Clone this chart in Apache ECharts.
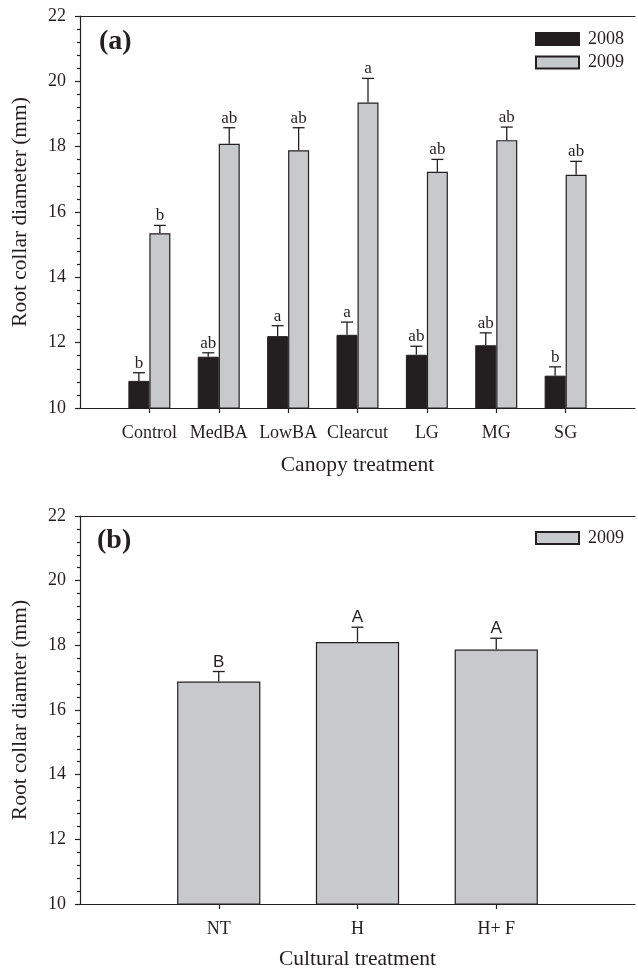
<!DOCTYPE html>
<html>
<head>
<meta charset="utf-8">
<style>
  html, body { margin: 0; padding: 0; background: #fff; }
  #chart { width: 638px; height: 971px; }
</style>
<script src="https://cdn.jsdelivr.net/npm/echarts@6/dist/echarts.min.js"></script>
</head>
<body>
<div id="chart"></div>
<script>
// Panel (a): root collar diameter by canopy treatment, 2008 vs 2009
const canopyCategories = ['Control', 'MedBA', 'LowBA', 'Clearcut', 'LG', 'MG', 'SG'];
const mean2008 = [10.83, 11.57, 12.20, 12.24, 11.63, 11.92, 10.99];
const se2008   = [0.25, 0.12, 0.32, 0.39, 0.26, 0.38, 0.27];
const letters2008 = ['b', 'ab', 'a', 'a', 'ab', 'ab', 'b'];
const mean2009 = [15.35, 18.09, 17.89, 19.35, 17.23, 18.20, 17.14];
const se2009   = [0.24, 0.49, 0.69, 0.74, 0.38, 0.40, 0.41];
const letters2009 = ['b', 'ab', 'ab', 'a', 'ab', 'ab', 'ab'];

// Panel (b): root collar diameter by cultural treatment, 2009
const culturalCategories = ['NT', 'H', 'H+ F'];
const meanCultural = [16.88, 18.10, 17.87];
const seCultural   = [0.31, 0.46, 0.35];
const lettersCultural = ['B', 'A', 'A'];

const yTicks = { min: 10, max: 22, interval: 2 };

const INK = '#231f20';
const GREY = '#c8c9cb';
const SERIF = '"Liberation Serif", "Times New Roman", serif';
const SANS = '"Liberation Sans", Arial, sans-serif';
const BAR_A = 21;   // px width of each bar in panel (a)

// empty slots at both ends leave a full step between the axis and the first/last group
const padCats = cats => [''].concat(cats, ['']);
const axisCatsA = padCats(canopyCategories);
const axisCatsB = padCats(culturalCategories);

function errorData(means, ses) {
  return means.map((m, i) => [i + 1, m, m + ses[i]]);
}

// upward error bar with a cap and a significance letter on top
function errorRenderer(offset, letters, font) {
  return function (params, api) {
    const idx = api.value(0);
    const base = api.coord([idx, api.value(1)]);
    const top = api.coord([idx, api.value(2)]);
    const x = base[0] + offset;
    const half = 6;
    return {
      type: 'group',
      children: [
        { type: 'line', shape: { x1: x, y1: base[1], x2: x, y2: top[1] },
          style: { stroke: INK, lineWidth: 1.3 } },
        { type: 'line', shape: { x1: x - half, y1: top[1], x2: x + half, y2: top[1] },
          style: { stroke: INK, lineWidth: 1.3 } },
        { type: 'text',
          style: { text: letters[params.dataIndex], x: x, y: top[1] - 1,
                   align: 'center', verticalAlign: 'bottom',
                   font: font, fill: INK } }
      ]
    };
  };
}

function valueAxis(gridIndex, name) {
  return {
    type: 'value', gridIndex: gridIndex,
    min: yTicks.min, max: yTicks.max, interval: yTicks.interval,
    name: name, nameLocation: 'middle', nameGap: 49,
    nameTextStyle: { fontFamily: SERIF, fontSize: 21.5, color: INK },
    axisLine: { show: true, lineStyle: { color: INK, width: 1.2 } },
    axisTick: { show: true, length: 5, lineStyle: { color: INK, width: 1.2 } },
    minorTick: { show: true, splitNumber: 5, length: 3, lineStyle: { color: INK, width: 1.2 } },
    splitLine: { show: false },
    axisLabel: { fontFamily: SERIF, fontSize: 18, color: INK, margin: 14 }
  };
}

function categoryAxis(gridIndex, data, name, nameGap) {
  return {
    type: 'category', gridIndex: gridIndex, data: data, boundaryGap: false,
    name: name, nameLocation: 'middle', nameGap: nameGap,
    nameTextStyle: { fontFamily: SERIF, fontSize: 21.5, color: INK },
    axisLine: { show: true, lineStyle: { color: INK, width: 1.2 } },
    axisTick: { show: true, length: 5, interval: (i, v) => v !== '',
                lineStyle: { color: INK, width: 1.2 } },
    axisLabel: { interval: 0, fontFamily: SERIF, fontSize: 18, color: INK, margin: 16 },
    splitLine: { show: false }
  };
}

// plain frame line along the top of a plot area
function topFrame(gridIndex) {
  return {
    type: 'value', gridIndex: gridIndex, position: 'top', min: 0, max: 1,
    axisLine: { show: true, onZero: false, lineStyle: { color: INK, width: 1.2 } },
    axisTick: { show: false }, axisLabel: { show: false }, splitLine: { show: false }
  };
}

const legendText = { fontFamily: SERIF, fontSize: 18, color: INK, padding: [0, 0, 0, 4] };

const option = {
  animation: false,
  backgroundColor: '#fff',
  title: [
    { text: '(a)', left: 99, top: 28, padding: 0,
      textStyle: { fontFamily: SERIF, fontSize: 28, fontWeight: 'bold', color: INK } },
    { text: '(b)', left: 97, top: 527, padding: 0,
      textStyle: { fontFamily: SERIF, fontSize: 28, fontWeight: 'bold', color: INK } }
  ],
  legend: [
    { data: ['2008', '2009'], orient: 'vertical', left: 535, top: 30, padding: 0,
      itemWidth: 43, itemHeight: 12, itemGap: 5.4, icon: 'rect',
      selectedMode: false, textStyle: legendText },
    { data: ['2009 '], orient: 'vertical', left: 535, top: 529, padding: 0,
      itemWidth: 43, itemHeight: 12, icon: 'rect',
      selectedMode: false, textStyle: legendText }
  ],
  grid: [
    { left: 80, top: 16, width: 560, height: 392 },
    { left: 80, top: 516, width: 560, height: 391.5 }
  ],
  xAxis: [
    categoryAxis(0, axisCatsA, 'Canopy treatment', 46),
    categoryAxis(1, axisCatsB, 'Cultural treatment', 44),
    topFrame(0),
    topFrame(1)
  ],
  yAxis: [
    valueAxis(0, 'Root collar diameter (mm)'),
    valueAxis(1, 'Root collar diamter (mm)')
  ],
  series: [
    { name: '2008', type: 'bar', xAxisIndex: 0, yAxisIndex: 0,
      data: [null].concat(mean2008, [null]),
      barWidth: BAR_A, barGap: '0%',
      itemStyle: { color: INK, borderColor: INK, borderWidth: 1 } },
    { name: '2009', type: 'bar', xAxisIndex: 0, yAxisIndex: 0,
      data: [null].concat(mean2009, [null]),
      barWidth: BAR_A, barGap: '0%',
      itemStyle: { color: GREY, borderColor: INK, borderWidth: 1.2 } },
    { type: 'custom', xAxisIndex: 0, yAxisIndex: 0, z: 5, clip: false,
      data: errorData(mean2008, se2008),
      renderItem: errorRenderer(-BAR_A / 2, letters2008, '17px ' + SERIF) },
    { type: 'custom', xAxisIndex: 0, yAxisIndex: 0, z: 5, clip: false,
      data: errorData(mean2009, se2009),
      renderItem: errorRenderer(BAR_A / 2, letters2009, '17px ' + SERIF) },

    { name: '2009 ', type: 'bar', xAxisIndex: 1, yAxisIndex: 1,
      data: [null].concat(meanCultural, [null]),
      barWidth: '60%',
      itemStyle: { color: GREY, borderColor: INK, borderWidth: 1.2 } },
    { type: 'custom', xAxisIndex: 1, yAxisIndex: 1, z: 5, clip: false,
      data: errorData(meanCultural, seCultural),
      renderItem: errorRenderer(0, lettersCultural, '17px ' + SANS) }
  ]
};

const chart = echarts.init(document.getElementById('chart'), null, { renderer: 'canvas' });
chart.setOption(option);
</script>
</body>
</html>
